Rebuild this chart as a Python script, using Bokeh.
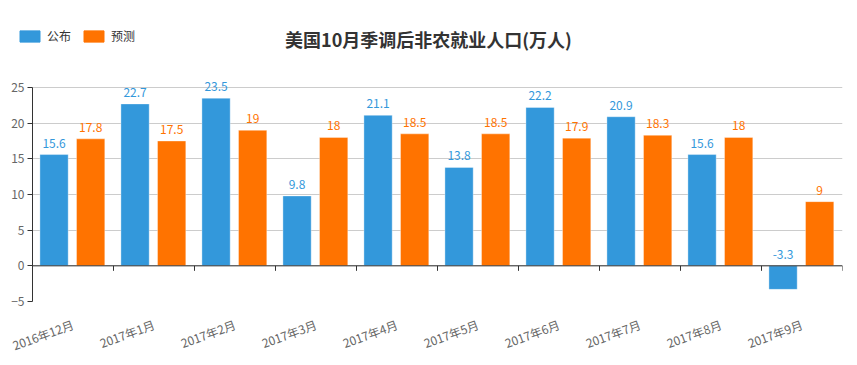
from bokeh.plotting import figure
from bokeh.models import (ColumnDataSource, Range1d, LinearAxis, FixedTicker, LabelSet,
                          Legend, LegendItem, Label, Span)
from bokeh.layouts import column
from bokeh.transform import dodge
from bokeh.core.properties import value
from bokeh.embed import file_html
from bokeh.resources import INLINE

categories = ["2016年12月", "2017年1月", "2017年2月", "2017年3月", "2017年4月",
              "2017年5月", "2017年6月", "2017年7月", "2017年8月", "2017年9月"]
published = [15.6, 22.7, 23.5, 9.8, 21.1, 13.8, 22.2, 20.9, 15.6, -3.3]
forecast = [17.8, 17.5, 19, 18, 18.5, 18.5, 17.9, 18.3, 18, 9]
y_ticks = [-5, 0, 5, 10, 15, 20, 25]
series_names = ["公布", "预测"]
title_text = "美国10月季调后非农就业人口(万人)"

BLUE = "#3398DB"
ORANGE = "#FF7300"
FONT = "Noto Sans CJK SC"
W = 857
HEAD_H = 77
MAIN_H = 288
AXIS_H = 214      # pixel height of the -5..25 span
TOP_PAD = 10      # room above the top gridline for value labels

n = len(categories)
centers = [i + 0.5 for i in range(n)]
src = ColumnDataSource(dict(
    x=centers,
    pub=published,
    fc=forecast,
    pub_lab_y=[max(v, 0) for v in published],
    fc_lab_y=[max(v, 0) for v in forecast],
    pub_txt=[f"{v:g}" for v in published],
    fc_txt=[f"{v:g}" for v in forecast],
))

# ---------- header: title + legend ----------
head = figure(frame_width=W, frame_height=HEAD_H, output_backend="svg",
              toolbar_location=None, x_axis_type=None, y_axis_type=None, min_border=0,
              x_range=Range1d(0, 1), y_range=Range1d(0, 1))
if hasattr(head, "frame_align"):
    head.frame_align = False
head.outline_line_color = None
head.grid.visible = False
# legend swatches only (the single row lies outside the visible range)
swatch = ColumnDataSource(dict(x=[-1.0], top=[0.0]))
h1 = head.vbar(x="x", top="top", width=0.1, source=swatch, fill_color=BLUE, line_color=BLUE)
h2 = head.vbar(x="x", top="top", width=0.1, source=swatch, fill_color=ORANGE, line_color=ORANGE)
for r in (h1, h2):
    if hasattr(r.glyph, "border_radius"):
        r.glyph.border_radius = 4
legend = Legend(items=[LegendItem(label=series_names[0], renderers=[h1]),
                       LegendItem(label=series_names[1], renderers=[h2])],
                orientation="horizontal", location=(17, 33),
                margin=0, padding=0, spacing=10, label_standoff=5,
                glyph_width=25, glyph_height=14, label_height=14,
                border_line_color=None, background_fill_alpha=0,
                label_text_font=FONT, label_text_font_size="12px",
                label_text_color="#333333", label_text_baseline="middle")
head.add_layout(legend, "center")
head.add_layout(Label(x=428, y=HEAD_H - 38, x_units="screen", y_units="screen",
                      text=title_text, text_align="center", text_baseline="middle",
                      text_font=FONT, text_font_size="18px", text_font_style="bold",
                      text_color="#333333"))

# ---------- main chart ----------
unit_px = AXIS_H / (y_ticks[-1] - y_ticks[0])
y_top = y_ticks[-1] + TOP_PAD / unit_px
p = figure(width=W, height=MAIN_H, output_backend="svg", toolbar_location=None,
           x_range=Range1d(0, n), y_range=Range1d(y_ticks[0], y_top),
           x_axis_type=None, min_border_left=32, min_border_right=15,
           min_border_top=0, min_border_bottom=MAIN_H - TOP_PAD - AXIS_H)
p.outline_line_color = None

r1 = p.vbar(x=dodge("x", -0.234, range=p.x_range), top="pub", width=0.349, source=src,
            fill_color=BLUE, line_color="white", line_alpha=0.35)
r2 = p.vbar(x=dodge("x", 0.218, range=p.x_range), top="fc", width=0.349, source=src,
            fill_color=ORANGE, line_color="white", line_alpha=0.35)

for col_y, col_t, off, color in [("pub_lab_y", "pub_txt", -0.234, BLUE),
                                 ("fc_lab_y", "fc_txt", 0.218, ORANGE)]:
    p.add_layout(LabelSet(x=dodge("x", off, range=p.x_range), y=col_y, text=col_t,
                          source=src, y_offset=7, text_align="center",
                          text_baseline="bottom", text_color=color,
                          text_font=value(FONT), text_font_size="12px"))

# y axis
ya = p.yaxis[0]
ya.ticker = FixedTicker(ticks=y_ticks)
ya.bounds = (y_ticks[0], y_ticks[-1])
ya.axis_line_color = "#333333"
ya.major_tick_line_color = "#333333"
ya.major_tick_out = 5
ya.major_tick_in = 0
ya.minor_tick_line_color = None
ya.major_label_text_color = "#666666"
ya.major_label_text_font = FONT
ya.major_label_text_font_size = "12px"
ya.major_label_standoff = 3
p.ygrid.ticker = FixedTicker(ticks=y_ticks)
p.ygrid.grid_line_color = "#cccccc"

# zero line with category-boundary ticks
p.add_layout(Span(location=0, dimension="width", line_color="#333333", line_width=1))
tick_len = 5 / unit_px
bounds = list(range(n + 1))
p.segment(x0=bounds, x1=bounds, y0=[0] * len(bounds), y1=[-tick_len] * len(bounds),
          line_color="#333333", line_width=1)

# category label axis
la = LinearAxis(ticker=FixedTicker(ticks=centers),
                major_label_overrides={c: t for c, t in zip(centers, categories)},
                axis_line_color=None, major_tick_line_color=None, minor_tick_line_color=None,
                major_label_orientation=0.35, major_label_text_color="#666666",
                major_label_text_font=FONT, major_label_text_font_size="12px",
                major_label_standoff=16)
p.add_layout(la, "below")

layout = column(head, p, spacing=0)
open("out.html", "w").write(file_html(layout, INLINE))
